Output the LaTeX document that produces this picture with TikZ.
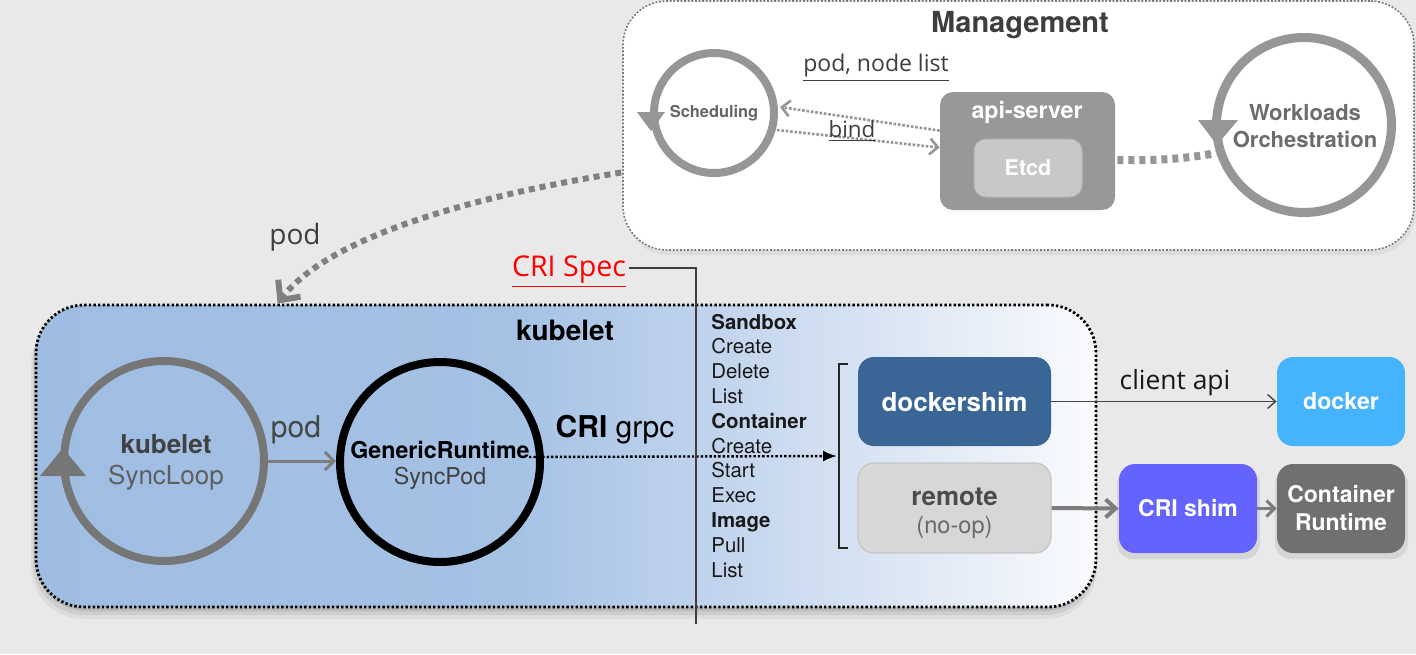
\documentclass[tikz,border=0pt]{standalone}
\usepackage{fontspec}
\setmainfont{TeX Gyre Heros}
\newfontfamily\segfont{Open Sans}
\usetikzlibrary{arrows.meta,calc}
\definecolor{bgc}{RGB}{233,233,233}
\definecolor{ringgray}{RGB}{150,150,150}
\definecolor{loopgray}{RGB}{118,118,118}
\definecolor{podgray}{RGB}{128,128,128}
\definecolor{mgmtline}{RGB}{120,120,120}
\definecolor{darktxt}{RGB}{62,62,62}
\definecolor{schedtxt}{RGB}{100,100,100}
\definecolor{worktxt}{RGB}{108,108,110}
\definecolor{synctop}{RGB}{65,65,65}
\definecolor{syncbot}{RGB}{95,95,95}
\definecolor{apigray}{RGB}{151,153,151}
\definecolor{etcdfill}{RGB}{200,200,200}
\definecolor{etcdline}{RGB}{180,180,180}
\definecolor{kubA}{RGB}{159,189,226}
\definecolor{kubB}{RGB}{165,194,229}
\definecolor{kubC}{RGB}{190,210,236}
\definecolor{kubD}{RGB}{218,229,244}
\definecolor{kubE}{RGB}{250,251,253}
\definecolor{dsfill}{RGB}{57,102,149}
\definecolor{remfill}{RGB}{215,215,215}
\definecolor{remline}{RGB}{198,198,198}
\definecolor{remtxt}{RGB}{75,75,75}
\definecolor{nooptxt}{RGB}{105,105,105}
\definecolor{dockfill}{RGB}{70,179,255}
\definecolor{crifill}{RGB}{101,99,255}
\definecolor{crfill}{RGB}{112,112,112}
\definecolor{specred}{RGB}{255,0,0}
\definecolor{listtxtc}{RGB}{25,25,25}
\definecolor{arrowdark}{RGB}{70,70,70}
\definecolor{arrowmid}{RGB}{125,125,125}
\pgfdeclarehorizontalshading{kubshade}{100bp}{color(0bp)=(kubA); color(25bp)=(kubA); color(47.5bp)=(kubB); color(56bp)=(kubC); color(65bp)=(kubD); color(75bp)=(kubE); color(100bp)=(kubE)}
\begin{document}
\begin{tikzpicture}[x=0.5pt,y=-0.5pt,
  ring/.style={circle, inner sep=0pt},
  txt/.style={inner sep=0pt, align=center},
  mgmtbox/.style={draw=mgmtline, fill=white, line width=0.8pt, dash pattern=on 0.9pt off 0.9pt, rounded corners=22pt, minimum width=395.5pt, minimum height=124.5pt, inner sep=0pt},
  kubbox/.style={draw=black, line width=1.4pt, dash pattern=on 1.2pt off 1.1pt, rounded corners=24pt, shade, shading=kubshade, minimum width=530pt, minimum height=151pt, inner sep=0pt},
  mgarrow/.style={draw=ringgray, line width=1.3pt, dash pattern=on 1.3pt off 0.9pt, -{Straight Barb[length=4pt,width=8pt]}},
  thickdot/.style={draw=ringgray, line width=4pt, dash pattern=on 3pt off 2.5pt},
  bigdot/.style={draw=podgray, line width=3pt, dash pattern=on 3pt off 2.5pt, -{Straight Barb[length=7.5pt,width=14pt]}},
  podarrow/.style={draw=arrowmid, line width=1.5pt, -{Straight Barb[length=4.5pt,width=9pt]}},
  cridot/.style={draw=black, line width=1.2pt, dash pattern=on 1.2pt off 1pt, -{Latex[length=7pt,width=5.5pt]}},
  specline/.style={draw=darktxt, line width=0.6pt},
  listtxt/.style={inner sep=0pt, anchor=base west, text=listtxtc, font=\fontsize{10.2}{12}\selectfont},
  rbox/.style={rounded corners=8pt, inner sep=0pt, align=center, minimum height=44.5pt},
  thinarrow/.style={draw=arrowdark, line width=0.7pt, -{Straight Barb[length=4pt,width=7pt]}},
  grayarrow/.style={draw=arrowmid, line width=2pt, -{Straight Barb[length=5pt,width=9pt]}},
  grayarrowb/.style={draw=arrowmid, line width=1.5pt, -{Straight Barb[length=4pt,width=8pt]}}
]
\fill[bgc] (0,0) rectangle (1416,654);
\useasboundingbox (0,0) rectangle (1416,654);

% shadows
\fill[black,opacity=0.05,rounded corners=22pt] (625,5) rectangle (1416,255);
\foreach \d/\o in {12/0.05,8/0.07,4/0.09} {
  \fill[black,opacity=\o,rounded corners=26pt] (36-\d*0.4,305+\d*0.5) rectangle (1096+\d*0.1,607+\d);
}

% Management
\node[mgmtbox] (mgmt) at (1018.5,125.5) {};
\node[txt, text=darktxt, font=\bfseries\fontsize{14.5}{17}\selectfont] (mtitle) at (1020,25) {Management};

\node[ring, draw=ringgray, line width=4pt, minimum size=60pt] (sched) at (714,113) {};
\fill[ringgray] (637,112) -- (665,112) -- (651,131) -- cycle;
\node[txt, text=schedtxt, font=\bfseries\fontsize{8.2}{10}\selectfont] (schedtxt) at (714,113) {Scheduling};

\node[rbox, fill=apigray, rounded corners=6.5pt, minimum width=87.5pt, minimum height=59pt] (api) at (1027.5,151) {};
\node[txt, text=white, font=\bfseries\fontsize{11.6}{14}\selectfont] (apitxt) at (1027,112) {api-server};
\node[rbox, fill=etcdfill, draw=etcdline, line width=0.5pt, rounded corners=6pt, minimum width=54pt, minimum height=29pt, text=white, font=\bfseries\fontsize{10.8}{13}\selectfont] (etcd) at (1028,168) {Etcd};

\node[ring, draw=ringgray, line width=4.5pt, minimum size=87.5pt] (work) at (1304,125) {};
\fill[ringgray] (1198,120) -- (1238,120) -- (1217,145) -- cycle;
\node[txt, text=worktxt, font=\bfseries\fontsize{11}{13.5}\selectfont] (worktxt) at (1305,126) {Workloads\\Orchestration};

\draw[mgarrow] ($(api.north west)+(0,39)$) -- ($(sched.east)+(2,-6)$);
\draw[mgarrow] ($(sched.east)+(-1,17)$) -- ($(api.north west)+(0,56)$);
\node[txt, text=darktxt, font=\segfont\fontsize{11.5}{13}\selectfont] (pnl) at (876,68) {\underline{pod, node list}};
\node[txt, text=darktxt, font=\segfont\fontsize{11.2}{13}\selectfont] (bindl) at (852,131) {\underline{bind}};

\draw[thickdot] ($(api.east)+(2,9)$) .. controls (1160,161) and (1190,158) .. ($(work.west)+(4,28)$);

% kubelet
\node[kubbox] (kub) at (566,456) {};
\node[txt, font=\bfseries\fontsize{14}{17}\selectfont] (kubtitle) at (565,330) {kubelet};

\draw[bigdot] ($(mgmt.west)+(-1,47)$) .. controls (480,195) and (330,235) .. ($(kub.north west)+(243,0)$);
\node[txt, text=darktxt, font=\segfont\fontsize{14}{17}\selectfont] (podtop) at (295,237) {pod};

\node[ring, draw=loopgray, line width=4pt, minimum size=100pt] (sync) at (164,461) {};
\fill[loopgray] (40,476) -- (86,476) -- (63,448) -- cycle;
\node[txt, font=\fontsize{13}{15.5}\selectfont] (synctxt) at (166,462) {\textcolor{synctop}{\bfseries kubelet}\\\textcolor{syncbot}{SyncLoop}};

\node[ring, draw=black, line width=4pt, minimum size=100pt] (gen) at (440,462) {};
\node[txt, font=\fontsize{11.6}{13}\selectfont] (gentxt) at (440,465) {{\bfseries GenericRuntime}\\\textcolor{synctop}{SyncPod}};

\draw[podarrow] (sync.east) -- (sync.east -| gen.west);
\node[txt, text=arrowdark, font=\fontsize{15}{18}\selectfont] (podmid) at (296,430) {pod};
\node[txt, font=\fontsize{15}{18}\selectfont] (grpc) at (615,430) {{\bfseries CRI} grpc};

\coordinate (brk) at (837,456);
\draw[line width=0.8pt, black!85] (848,364) -- (839,364) -- (839,548) -- (848,548);
\draw[cridot] ($(gen.east)+(-15,-5)$) -- (brk);

\node[txt, text=specred, font=\segfont\fontsize{14.3}{17}\selectfont] (crispec) at (569,272) {\underline{CRI Spec}};
\coordinate (specend) at (696,624);
\draw[specline] (crispec.east) ++(3,-4) -| (specend);

\foreach \t [count=\i] in {{\bfseries Sandbox},Create,Delete,List,{\bfseries Container},Create,Start,Exec,{\bfseries Image},Pull,List} {
  \node[listtxt] (op\i) at (711,304.2+24.8*\i) {\t};
}

% runtimes
\node[rbox, fill=dsfill, minimum width=96.5pt, text=white, font=\bfseries\fontsize{13}{15}\selectfont] (ds) at (954.5,401.5) {dockershim};
\node[rbox, fill=remfill, draw=remline, line width=0.6pt, minimum width=96.5pt, minimum height=45pt] (remote) at (954.5,508) {};
\node[txt, text=remtxt, font=\bfseries\fontsize{13}{15}\selectfont] (remtxt1) at (954.5,497) {remote};
\node[txt, text=nooptxt, font=\fontsize{11.8}{14}\selectfont] (remtxt2) at (954.5,527) {(no-op)};

\node[rbox, fill=dockfill, minimum width=64pt, text=white, font=\bfseries\fontsize{11.6}{14}\selectfont] (docker) at (1341,401.5) {docker};
\fill[black,opacity=0.08,rounded corners=8pt] (1117,468) rectangle (1260,559);
\fill[black,opacity=0.08,rounded corners=8pt] (1275,468) rectangle (1408,559);
\node[rbox, fill=crifill, minimum width=69pt, text=white, font=\bfseries\fontsize{11.5}{14}\selectfont] (crishim) at (1188,508.5) {CRI shim};
\node[rbox, fill=crfill, minimum width=64pt, text=white, font=\bfseries\fontsize{11.5}{14}\selectfont] (crt) at (1341,508.5) {Container\\Runtime};

\draw[thinarrow] (ds.east) -- (docker.west);
\node[txt, text=listtxtc, font=\segfont\fontsize{13.2}{16}\selectfont] (capi) at (1175,383) {client api};
\draw[grayarrow] (remote.east) -- (crishim.west);
\draw[grayarrowb] (crishim.east) -- (crt.west);
\end{tikzpicture}
\end{document}
